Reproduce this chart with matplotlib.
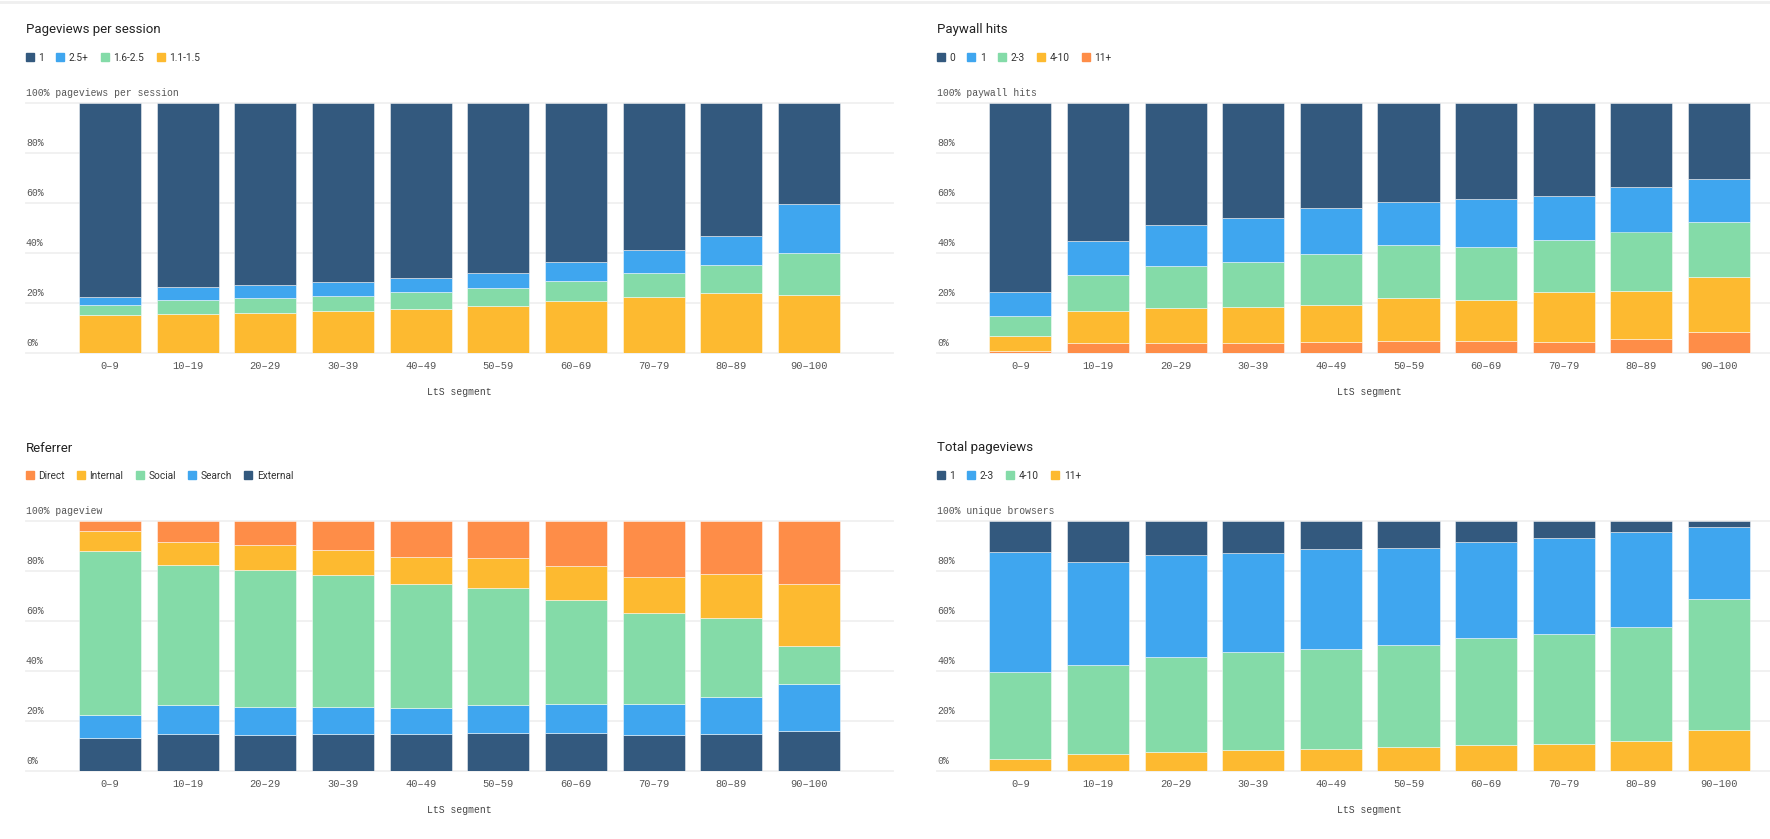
import matplotlib
matplotlib.use("Agg")
import matplotlib.pyplot as plt
from matplotlib.lines import Line2D
import numpy as np

W, H = 1770, 839

segments = ["0–9", "10–19", "20–29", "30–39", "40–49",
            "50–59", "60–69", "70–79", "80–89", "90–100"]

DARK = "#33597e"
BLUE = "#3fa6ef"
GREEN = "#84dba8"
YELLOW = "#fdba30"
ORANGE = "#fe8d48"

# Pageviews per session (stack bottom -> top)
pps_11_15 = [15.4, 15.5, 15.9, 16.7, 17.8, 19.0, 20.8, 22.3, 24.2, 23.2]
pps_16_25 = [3.7, 5.6, 6.0, 6.0, 6.5, 7.0, 8.2, 9.6, 10.9, 17.0]
pps_25p = [3.5, 5.2, 5.2, 5.6, 5.9, 6.2, 7.6, 9.2, 11.9, 19.6]
pps_1 = [77.4, 73.7, 72.9, 71.7, 69.8, 67.8, 63.4, 58.9, 53.0, 40.2]

# Paywall hits
pw_11p = [0.9, 4.0, 4.1, 4.1, 4.4, 4.9, 4.9, 4.4, 5.7, 8.5]
pw_4_10 = [6.0, 13.0, 14.1, 14.5, 15.0, 17.3, 16.5, 19.9, 19.1, 22.1]
pw_2_3 = [7.8, 14.1, 16.5, 17.8, 20.1, 20.9, 21.2, 21.1, 23.8, 22.0]
pw_1 = [9.6, 13.9, 16.7, 17.8, 18.4, 17.4, 18.9, 17.6, 17.8, 17.0]
pw_0 = [75.7, 55.0, 48.6, 45.8, 42.1, 39.5, 38.5, 37.0, 33.6, 30.4]

# Referrer
ref_external = [13.4, 14.7, 14.6, 15.0, 14.7, 15.2, 15.2, 14.6, 15.0, 15.9]
ref_search = [8.9, 11.7, 11.0, 10.5, 10.5, 11.2, 11.6, 12.2, 14.8, 18.8]
ref_social = [65.6, 56.1, 55.0, 53.0, 49.8, 47.0, 41.8, 36.5, 31.5, 15.5]
ref_internal = [8.0, 9.0, 9.8, 10.0, 10.8, 12.0, 13.5, 14.5, 17.5, 24.7]
ref_direct = [4.1, 8.5, 9.6, 11.5, 14.2, 14.6, 17.9, 22.2, 21.2, 25.1]

# Total pageviews
tp_11p = [4.7, 6.7, 7.5, 8.3, 8.7, 9.5, 10.3, 10.9, 11.9, 16.3]
tp_4_10 = [34.9, 35.7, 38.1, 39.2, 40.1, 40.8, 42.8, 43.9, 45.7, 52.5]
tp_2_3 = [47.9, 41.1, 40.7, 39.6, 40.1, 38.8, 38.5, 38.3, 37.9, 28.7]
tp_1 = [12.5, 16.5, 13.7, 12.9, 11.1, 10.9, 8.4, 6.9, 4.5, 2.5]

MONO = "Liberation Mono"
SANS = "Roboto"

fig = plt.figure(figsize=(W / 100, H / 100), dpi=100)
fig.add_artist(Line2D([0, 1], [0.998, 0.998], color="#efefef", lw=2))


def panel(px_left, px_right, px_top, px_bottom, xlim, title, unit, stack, labels, colors):
    ax = fig.add_axes([px_left / W, 1 - px_bottom / H,
                       (px_right - px_left) / W, (px_bottom - px_top) / H])
    x = np.arange(len(segments))
    bottom = np.zeros(len(segments))
    for vals, c in zip(stack, colors):
        ax.bar(x, vals, bottom=bottom, width=0.8, color=c,
               edgecolor=(1, 1, 1, 0.55), linewidth=0.6, zorder=2)
        bottom += np.array(vals)
    ax.set_xlim(*xlim)
    ax.set_ylim(0, 100)
    for s in ax.spines.values():
        s.set_visible(False)
    ax.set_yticks([])
    ax.set_xticks(x)
    ax.set_xticklabels(segments, fontfamily=MONO, fontsize=7.5, color="#555555")
    ax.tick_params(axis="x", length=0, pad=6)
    for v in range(0, 101, 20):
        ax.axhline(v, color="#f0f0f0", lw=1.3, zorder=0, clip_on=False)
        txt = f"{v}%" if v < 100 else f"100% {unit}"
        ax.annotate(txt, xy=(0, v), xycoords=("axes fraction", "data"),
                    xytext=(0, 7.5), textcoords="offset points",
                    va="center", ha="left", fontfamily=MONO, fontsize=7, color="#555555")
    ax.annotate("LtS segment", xy=(4.5, 0), xycoords=("data", "axes fraction"),
                xytext=(0, -28), textcoords="offset points",
                ha="center", va="center", fontfamily=MONO, fontsize=7, color="#444444")
    fig.text(px_left / W, 1 - (px_top - 73) / H, title, fontfamily=SANS,
             fontsize=9.5, color="#222222", va="center", ha="left")
    handles = [Line2D([], [], marker="s", linestyle="", markersize=5.5, color=c)
               for c in colors[::-1]]
    fig.legend(handles, labels, loc="center left",
               bbox_to_anchor=(px_left / W, 1 - (px_top - 45) / H),
               ncol=len(labels), frameon=False, prop={"family": SANS, "size": 7.3},
               handlelength=0.7, handletextpad=0.5, columnspacing=1.25,
               borderpad=0, borderaxespad=0, labelcolor="#333333")
    return ax


left_xlim = (-1.08, 10.08)
right_xlim = (-1.073, 9.656)

panel(26, 893, 103, 353, left_xlim, "Pageviews per session", "pageviews per session",
      [pps_11_15, pps_16_25, pps_25p, pps_1],
      ["1", "2.5+", "1.6-2.5", "1.1-1.5"],
      [YELLOW, GREEN, BLUE, DARK])

panel(937, 1770, 103, 353, right_xlim, "Paywall hits", "paywall hits",
      [pw_11p, pw_4_10, pw_2_3, pw_1, pw_0],
      ["0", "1", "2-3", "4-10", "11+"],
      [ORANGE, YELLOW, GREEN, BLUE, DARK])

panel(26, 893, 521, 771, left_xlim, "Referrer", "pageview",
      [ref_external, ref_search, ref_social, ref_internal, ref_direct],
      ["Direct", "Internal", "Social", "Search", "External"],
      [DARK, BLUE, GREEN, YELLOW, ORANGE])

panel(937, 1770, 521, 771, right_xlim, "Total pageviews", "unique browsers",
      [tp_11p, tp_4_10, tp_2_3, tp_1],
      ["1", "2-3", "4-10", "11+"],
      [YELLOW, GREEN, BLUE, DARK])

fig.savefig("out.png", dpi=100)
